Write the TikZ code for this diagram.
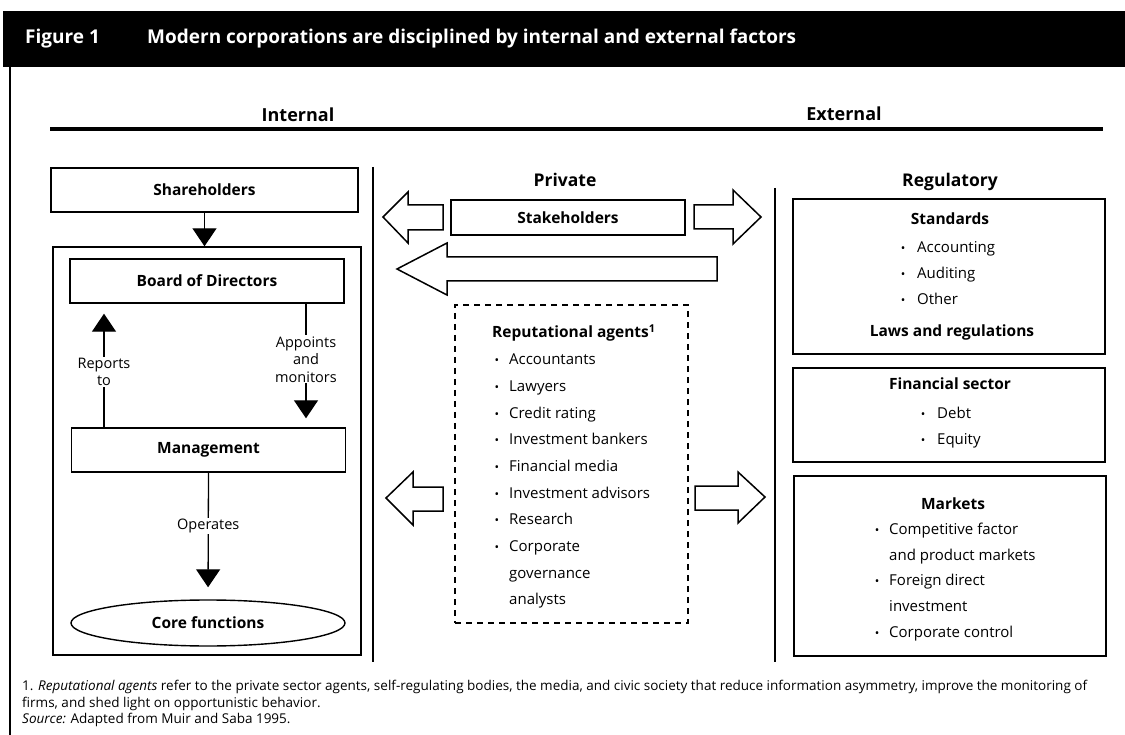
\documentclass[tikz,border=0pt]{standalone}
\usepackage{fontspec}
\setmainfont{Open Sans}
\usetikzlibrary{arrows.meta,shapes.geometric}
\begin{document}
\begin{tikzpicture}[x=1pt,y=-1pt,
  box/.style={draw,line width=1.4pt,inner sep=0pt,font=\bfseries\fontsize{15.5}{17}\selectfont},
  hdr/.style={font=\bfseries\fontsize{18}{20}\selectfont},
  lbl/.style={fill=white,inner sep=1pt,align=center,font=\fontsize{14.5}{17.5}\selectfont},
  bt/.style={anchor=base,font=\bfseries\fontsize{15.5}{17}\selectfont},
  sec/.style={anchor=base,font=\bfseries\fontsize{17.5}{19}\selectfont},
  it/.style={anchor=base west,inner sep=0pt,font=\fontsize{15}{16}\selectfont},
  bul/.style={anchor=base,font=\fontsize{12}{16}\selectfont},
  arr/.style={line width=1.3pt,-{Triangle[width=24pt,length=18pt]}},
  blk/.style={draw,line width=1.5pt,line join=miter,fill=white},
  fn/.style={anchor=base west,inner sep=0pt,font=\fontsize{13.5}{14}\selectfont}]
\useasboundingbox (0,0) rectangle (1125,735);
% header band
\fill (3,11) rectangle (1125,67);
\draw[line width=2pt] (10,67) -- (10,735);
\node[anchor=base west,text=white,font=\bfseries\fontsize{19}{21}\selectfont,inner sep=0pt] (fig) at (25,44) {Figure 1};
\node[anchor=base west,text=white,font=\bfseries\fontsize{19}{21}\selectfont,inner sep=0pt] (title) at (147,44) {Modern corporations are disciplined by internal and external factors};
% Internal / External
\node[hdr] (int) at (298,115) {Internal};
\node[hdr] (ext) at (844,114) {External};
\draw[line width=4pt] (50,129) -- (1103,129);
% internal side
\node[box,minimum width=307,minimum height=44] (sh) at (204.5,190) {Shareholders};
\node[draw,line width=1.4pt,minimum width=308,minimum height=408,inner sep=0pt] (outer) at (207,451) {};
\node[box,minimum width=274,minimum height=44] (bod) at (207,281) {Board of Directors};
\node[box,minimum width=274,minimum height=44] (mg) at (208.5,450) {Management};
\node[box,ellipse,minimum width=274,minimum height=46] (core) at (208,623) {Core functions};
\coordinate (rx) at (104,0);
\coordinate (ax) at (306,0);
\draw[arr] (sh.south) -- (sh.south |- outer.north);
\draw[arr,shorten >=10pt] (mg.north -| rx) -- node[lbl,pos=0.45] (rep2) {Reports\\to} (bod.south -| rx);
\draw[arr,shorten >=9pt] (bod.south -| ax) -- node[lbl,pos=0.45] (apm) {Appoints\\and\\monitors} (mg.north -| ax);
\draw[arr,shorten >=12pt] (mg.south) -- node[lbl,pos=0.42] (op) {Operates} (core.north);
% separators
\draw[line width=1.4pt] (373,167) -- (373,662);
\draw[line width=1.4pt] (775,188) -- (775,662);
% private
\node[sec] (priv) at (565,187) {Private};
\node[box,minimum width=234,minimum height=35] (stk) at (568,217.5) {Stakeholders};
\draw[blk] (383,217) -- (408,192) -- (408,205) -- (443,205) -- (443,230) -- (408,230) -- (408,243) -- cycle;
\draw[blk] (694,205) -- (733,205) -- (733,190) -- (761,217) -- (733,244) -- (733,229) -- (694,229) -- cycle;
\draw[blk] (397,269) -- (447,243) -- (447,257) -- (717,257) -- (717,281) -- (447,281) -- (447,295) -- cycle;
\draw[blk] (386,498) -- (413,472) -- (413,487) -- (443,487) -- (443,511) -- (413,511) -- (413,525) -- cycle;
\draw[blk] (695,486) -- (738,486) -- (738,472) -- (765,497) -- (738,523) -- (738,510) -- (695,510) -- cycle;
\node[draw,line width=1.5pt,dash pattern=on 6pt off 5pt,minimum width=233,minimum height=318,inner sep=0pt] (rep) at (571.5,464) {};
\node[anchor=base west,inner sep=0pt,font=\bfseries\fontsize{15.5}{17}\selectfont] (reph) at (492,338) {Reputational agents\textsuperscript{1}};
\foreach \t [count=\i] in {Accountants,Lawyers,Credit rating,Investment bankers,Financial media,Investment advisors,Research,Corporate}{
  \node[bul] (rb\i) at (497,{365+(\i-1)*26.6}) {•};
  \node[it] (ri\i) at (509,{365+(\i-1)*26.6}) {\t};
}
\node[it] (ri9) at (509,578) {governance};
\node[it] (ri10) at (509,604.5) {analysts};
% regulatory
\node[sec] (reg) at (950,187) {Regulatory};
\node[draw,line width=1.4pt,minimum width=312,minimum height=155,inner sep=0pt] (std) at (949,276.5) {};
\node[bt] (stdh) at (950,225) {Standards};
\foreach \t/\y [count=\i] in {Accounting/253,Auditing/279,Other/305}{
  \node[bul] (sb\i) at (903,\y) {•};
  \node[it] (si\i) at (917,\y) {\t};
}
\node[bt] (laws) at (952,337) {Laws and regulations};
\node[draw,line width=1.4pt,minimum width=312,minimum height=94,inner sep=0pt] (fin) at (949,415) {};
\node[bt] (finh) at (950,390) {Financial sector};
\node[bul] (fb1) at (923,418) {•};
\node[it] (fi1) at (937,418) {Debt};
\node[bul] (fb2) at (923,444) {•};
\node[it] (fi2) at (937,444) {Equity};
\node[draw,line width=1.4pt,minimum width=312,minimum height=180,inner sep=0pt] (mkt) at (950,566) {};
\node[bt] (mkth) at (953,509) {Markets};
\node[bul] (mb1) at (877,534) {•};
\node[it] (mi1) at (889,534) {Competitive factor};
\node[it] (mi2) at (889,560) {and product markets};
\node[bul] (mb3) at (877,585) {•};
\node[it] (mi3) at (889,585) {Foreign direct};
\node[it] (mi4) at (889,611) {investment};
\node[bul] (mb5) at (877,637) {•};
\node[it] (mi5) at (889,637) {Corporate control};
% footnotes
\node[fn] (fn1) at (22,690) {1. \textit{Reputational agents} refer to the private sector agents, self-regulating bodies, the media, and civic society that reduce information asymmetry, improve the monitoring of};
\node[fn] (fn2) at (22,707) {firms, and shed light on opportunistic behavior.};
\node[fn] (fn3) at (22,723) {\textit{Source:} Adapted from Muir and Saba 1995.};
\end{tikzpicture}
\end{document}
